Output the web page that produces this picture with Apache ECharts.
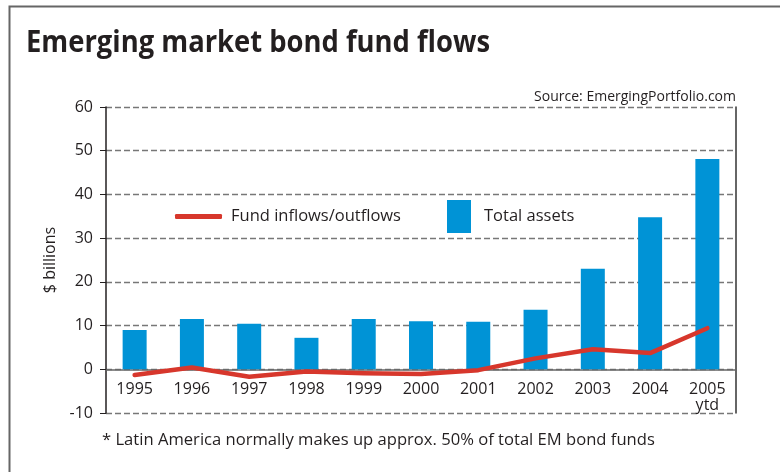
<!DOCTYPE html>
<html><head><meta charset="utf-8">
<script src="https://cdn.jsdelivr.net/npm/echarts@6/dist/echarts.min.js"></script>
<style>html,body{margin:0;padding:0;background:#fff}#c{width:780px;height:472px}</style>
</head><body><div id="c"></div>
<script>
const categories = ['1995','1996','1997','1998','1999','2000','2001','2002','2003','2004','2005\nytd'];
const totalAssets = [9.0, 11.5, 10.4, 7.2, 11.5, 11.0, 10.9, 13.6, 23.0, 34.8, 48.1];
const fundFlows = [-1.3, 0.4, -1.7, -0.5, -0.9, -1.1, -0.2, 2.5, 4.6, 3.7, 9.4];
const yTicks = [-10, 0, 10, 20, 30, 40, 50, 60];
const titleText = 'Emerging market bond fund flows';

const FONT = 'Open Sans';
const TFONT = 'bold 30px "Open Sans", sans-serif';
const mctx = document.createElement('canvas').getContext('2d');
mctx.font = TFONT;
const titleScale = 464 / mctx.measureText(titleText).width;

const chart = echarts.init(document.getElementById('c'), null, {renderer: 'canvas'});
chart.setOption({
  animation: false,
  backgroundColor: '#fff',
  textStyle: {fontFamily: FONT},
  title: [
    {text: 'Source: EmergingPortfolio.com', right: 44, top: 90, padding: 0,
     textStyle: {fontFamily: FONT, fontWeight: 'normal', fontSize: 14, color: '#231f20'}},
    {text: '* Latin America normally makes up approx. 50% of total EM bond funds', left: 102, top: 432, padding: 0,
     textStyle: {fontFamily: FONT, fontWeight: 'normal', fontSize: 16.6, color: '#231f20'}}
  ],
  graphic: [
    {type: 'rect', shape: {x: 9.5, y: 6.5, width: 800, height: 480}, style: {fill: 'none', stroke: '#666', lineWidth: 2}, z: 100},
    {type: 'text', x: 26, y: 43, scaleX: titleScale,
     style: {text: titleText, font: TFONT, fill: '#231f20', textVerticalAlign: 'middle'}}
  ],
  legend: [
    {data: [{name: 'Fund inflows/outflows', icon: 'roundRect'}], left: 175, top: 208, padding: 0, itemWidth: 47, itemHeight: 5,
     itemGap: 10, textStyle: {fontSize: 16.5, color: '#231f20', fontFamily: FONT, padding: [0,0,0,4]}},
    {data: [{name: 'Total assets', icon: 'rect'}], left: 447, top: 200, padding: 0, itemWidth: 24, itemHeight: 33,
     textStyle: {fontSize: 16.5, color: '#231f20', fontFamily: FONT, padding: [2,0,0,8]}}
  ],
  grid: {left: 106, right: 44, top: 107, bottom: 59, containLabel: false},
  xAxis: {
    type: 'category', data: categories,
    axisLine: {onZero: true, onZeroAxisIndex: 0, lineStyle: {color: '#666', width: 1.5}},
    axisTick: {show: false},
    axisLabel: {fontSize: 16, color: '#231f20', margin: 8, lineHeight: 16, fontFamily: FONT}
  },
  yAxis: [
    {type: 'value', min: -10, max: 60, interval: 10, name: '$ billions', nameLocation: 'middle', nameGap: 48,
     nameTextStyle: {fontSize: 16, color: '#231f20', fontFamily: FONT},
     axisLine: {show: true, lineStyle: {color: '#231f20', width: 1.5}},
     axisTick: {show: true, length: 6, lineStyle: {color: '#231f20'}},
     axisLabel: {fontSize: 16, color: '#231f20', margin: 13, fontFamily: FONT},
     splitLine: {show: true, lineStyle: {type: [6, 3], color: '#777', width: 1.3}}},
    {type: 'value', min: -10, max: 60, interval: 10, position: 'right',
     axisLine: {show: true, onZero: false, lineStyle: {color: '#333', width: 1.5}},
     axisTick: {show: false}, axisLabel: {show: false}, splitLine: {show: false}}
  ],
  series: [
    {name: 'Total assets', type: 'bar', data: totalAssets, barWidth: 24, yAxisIndex: 0,
     itemStyle: {color: '#0093d6'}, z: 2},
    {name: 'Fund inflows/outflows', type: 'line', data: fundFlows, symbol: 'none', yAxisIndex: 0,
     lineStyle: {color: '#d7372c', width: 4.5, cap: 'round', join: 'round'}, itemStyle: {color: '#d7372c'}, z: 3}
  ]
});
// place the category labels just under the zero line (labels otherwise stay at the grid bottom)
const yZero = chart.convertToPixel({yAxisIndex: 0}, 0);
const yMin = chart.convertToPixel({yAxisIndex: 0}, yTicks[0]);
chart.setOption({xAxis: {axisLabel: {margin: 12 - (yMin - yZero)}}});
</script></body></html>
